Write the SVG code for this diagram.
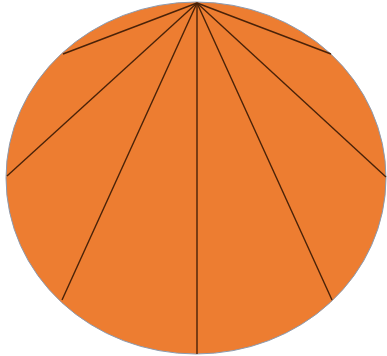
<svg xmlns="http://www.w3.org/2000/svg" width="387" height="356" viewBox="0 0 387 356">
<style>
.shape{fill:#ED7D31;stroke:#8C9BB0;stroke-width:1}
.conn line{stroke:#4A2208;stroke-width:1.4}
</style>
<rect width="387" height="356" fill="#ffffff"/>
<g id="ellipse">
<ellipse class="shape" cx="196" cy="178" rx="190" ry="176"/>
</g>
<g id="connectors" class="conn">
<line x1="197" y1="3" x2="63" y2="54"/>
<line x1="197" y1="3" x2="7" y2="176"/>
<line x1="197" y1="3" x2="62" y2="300"/>
<line x1="197" y1="3" x2="197" y2="354"/>
<line x1="197" y1="3" x2="332" y2="300"/>
<line x1="197" y1="3" x2="386" y2="177"/>
<line x1="197" y1="3" x2="331" y2="54"/>
</g>
</svg>
